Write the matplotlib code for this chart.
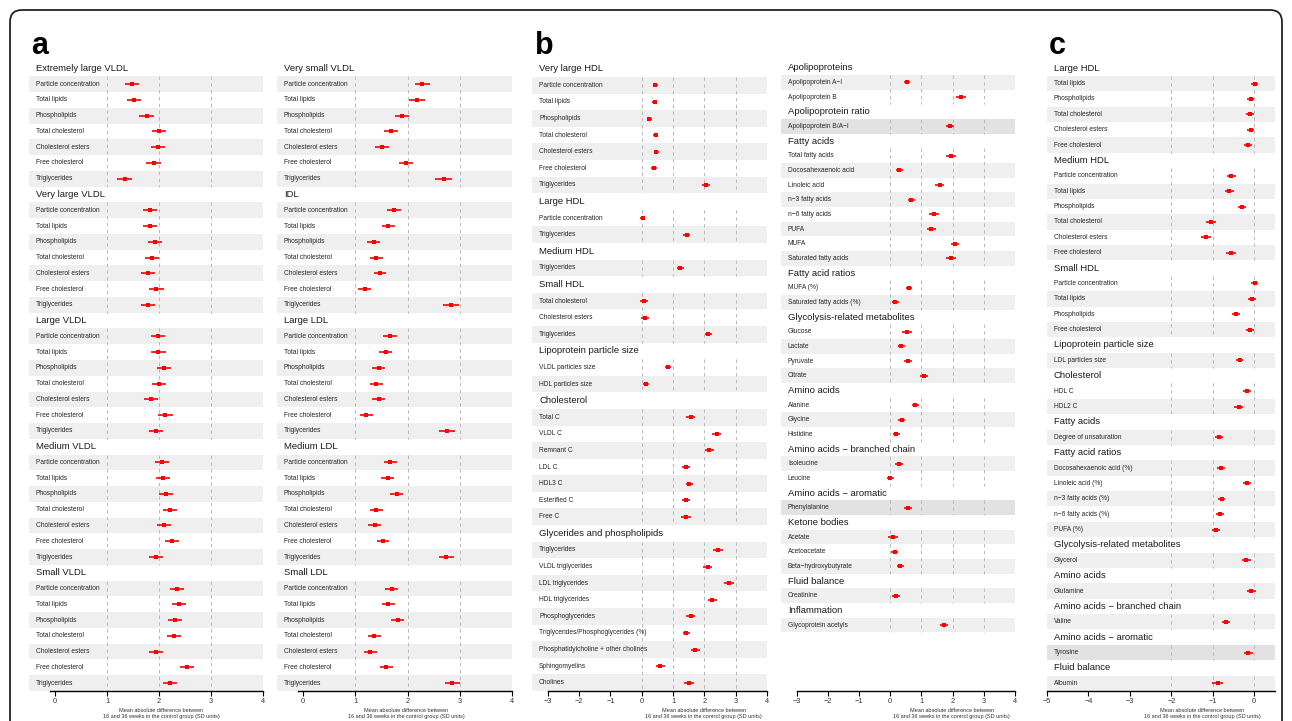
import matplotlib
matplotlib.use('Agg')
import matplotlib.pyplot as plt
import matplotlib.transforms as mtransforms
from matplotlib.patches import FancyBboxPatch

plt.rcParams['font.family'] = ['Liberation Sans', 'DejaVu Sans']

XLAB = "Mean absolute difference between\n16 and 36 weeks in the control group (SD units)"

lipid_rows = ["Particle concentration", "Total lipids", "Phospholipids", "Total cholesterol",
              "Cholesterol esters", "Free cholesterol", "Triglycerides"]

# ---- panel a, left column
a1_groups = ["Extremely large VLDL", "Very large VLDL", "Large VLDL", "Medium VLDL", "Small VLDL"]
a1_rows = [lipid_rows] * 5
a1_est = [[1.48, 1.52, 1.76, 2.00, 1.98, 1.90, 1.34],
          [1.83, 1.83, 1.92, 1.87, 1.79, 1.95, 1.78],
          [1.98, 1.99, 2.10, 2.00, 1.84, 2.12, 1.95],
          [2.05, 2.08, 2.14, 2.22, 2.10, 2.25, 1.95],
          [2.35, 2.38, 2.31, 2.28, 1.95, 2.54, 2.21]]
a1_ci = [[0.14, 0.14, 0.14, 0.14, 0.14, 0.145, 0.15],
         [0.14, 0.135, 0.14, 0.135, 0.135, 0.14, 0.135],
         [0.14, 0.135, 0.14, 0.135, 0.135, 0.14, 0.135],
         [0.135, 0.135, 0.135, 0.135, 0.135, 0.135, 0.135],
         [0.135, 0.135, 0.135, 0.135, 0.135, 0.14, 0.135]]
a1_shade = ["gwgwgwg"] * 5

# ---- panel a, right column
a2_groups = ["Very small VLDL", "IDL", "Large LDL", "Medium LDL", "Small LDL"]
a2_rows = [lipid_rows] * 5
a2_est = [[2.28, 2.18, 1.89, 1.69, 1.51, 1.97, 2.69],
          [1.74, 1.63, 1.35, 1.40, 1.47, 1.18, 2.83],
          [1.66, 1.58, 1.45, 1.40, 1.45, 1.21, 2.75],
          [1.67, 1.62, 1.79, 1.40, 1.37, 1.53, 2.74],
          [1.70, 1.63, 1.81, 1.36, 1.29, 1.59, 2.86]]
a2_ci = [[0.145, 0.145, 0.135, 0.135, 0.135, 0.14, 0.155],
         [0.13, 0.125, 0.125, 0.122, 0.122, 0.12, 0.16],
         [0.13, 0.128, 0.122, 0.125, 0.122, 0.125, 0.15],
         [0.128, 0.128, 0.125, 0.125, 0.125, 0.122, 0.147],
         [0.125, 0.125, 0.122, 0.122, 0.122, 0.125, 0.147]]
a2_shade = ["gwgwgwg"] * 5

# ---- panel b, left column
b1_groups = ["Very large HDL", "Large HDL", "Medium HDL", "Small HDL",
             "Lipoprotein particle size", "Cholesterol", "Glycerides and phospholipids"]
b1_rows = [lipid_rows,
           ["Particle concentration", "Triglycerides"],
           ["Triglycerides"],
           ["Total cholesterol", "Cholesterol esters", "Triglycerides"],
           ["VLDL particles size", "HDL particles size"],
           ["Total C", "VLDL C", "Remnant C", "LDL C", "HDL3 C", "Esterified C", "Free C"],
           ["Triglycerides", "VLDL triglycerides", "LDL triglycerides", "HDL triglycerides",
            "Phosphoglycerides", "Triglycerides/Phosphoglycerides (%)",
            "Phosphatidylcholine + other cholines", "Sphingomyelins", "Cholines"]]
b1_est = [[0.43, 0.41, 0.24, 0.45, 0.47, 0.39, 2.05],
          [0.03, 1.44],
          [1.23],
          [0.07, 0.11, 2.13],
          [0.85, 0.14],
          [1.56, 2.40, 2.16, 1.42, 1.52, 1.41, 1.42],
          [2.43, 2.11, 2.79, 2.26, 1.56, 1.42, 1.71, 0.59, 1.52]]
b1_ci = [[0.08, 0.075, 0.08, 0.08, 0.085, 0.085, 0.13],
         [0.085, 0.117],
         [0.117],
         [0.12, 0.12, 0.117],
         [0.095, 0.085],
         [0.13, 0.147, 0.15, 0.13, 0.115, 0.126, 0.158],
         [0.153, 0.147, 0.158, 0.142, 0.147, 0.116, 0.142, 0.147, 0.163]]
b1_shade = ["gwgwgwg", "wg", "g", "gwg", "wg", "gwgwgwg", "gwgwgwgwg"]

# ---- panel b, right column
b2_groups = ["Apolipoproteins", "Apolipoprotein ratio", "Fatty acids", "Fatty acid ratios",
             "Glycolysis-related metabolites", "Amino acids", "Amino acids \u2212 branched chain",
             "Amino acids \u2212 aromatic", "Ketone bodies", "Fluid balance", "Inflammation"]
b2_rows = [["Apolipoprotein A\u2212I", "Apolipoprotein B"],
           ["Apolipoprotein B/A\u2212I"],
           ["Total fatty acids", "Docosahexaenoic acid", "Linoleic acid", "n\u22123 fatty acids",
            "n\u22126 fatty acids", "PUFA", "MUFA", "Saturated fatty acids"],
           ["MUFA (%)", "Saturated fatty acids (%)"],
           ["Glucose", "Lactate", "Pyruvate", "Citrate"],
           ["Alanine", "Glycine", "Histidine"],
           ["Isoleucine", "Leucine"],
           ["Phenylalanine"],
           ["Acetate", "Acetoacetate", "Beta\u2212hydroxybutyrate"],
           ["Creatinine"],
           ["Glycoprotein acetyls"]]
b2_est = [[0.54, 2.27], [1.91],
          [1.96, 0.29, 1.59, 0.68, 1.40, 1.32, 2.07, 1.95],
          [0.61, 0.16], [0.53, 0.36, 0.57, 1.08], [0.81, 0.37, 0.19],
          [0.28, 0.00], [0.58], [0.10, 0.14, 0.33], [0.18], [1.72]]
b2_ci = [[0.107, 0.15], [0.133],
         [0.16, 0.117, 0.144, 0.117, 0.16, 0.15, 0.128, 0.15],
         [0.096, 0.112], [0.155, 0.107, 0.133, 0.128], [0.123, 0.107, 0.112],
         [0.128, 0.117], [0.128], [0.155, 0.117, 0.112], [0.133], [0.123]]
b2_shade = ["gw", "d", "wgwgwgwg", "wg", "wgwg", "wgw", "gw", "d", "gwg", "g", "g"]

# ---- panel c
c_groups = ["Large HDL", "Medium HDL", "Small HDL", "Lipoprotein particle size", "Cholesterol",
            "Fatty acids", "Fatty acid ratios", "Glycolysis-related metabolites", "Amino acids",
            "Amino acids \u2212 branched chain", "Amino acids \u2212 aromatic", "Fluid balance"]
c_rows = [["Total lipids", "Phospholipids", "Total cholesterol", "Cholesterol esters", "Free cholesterol"],
          ["Particle concentration", "Total lipids", "Phospholipids", "Total cholesterol",
           "Cholesterol esters", "Free cholesterol"],
          ["Particle concentration", "Total lipids", "Phospholipids", "Free cholesterol"],
          ["LDL particles size"],
          ["HDL C", "HDL2 C"],
          ["Degree of unsaturation"],
          ["Docosahexaenoic acid (%)", "Linoleic acid (%)", "n\u22123 fatty acids (%)",
           "n\u22126 fatty acids (%)", "PUFA (%)"],
          ["Glycerol"], ["Glutamine"], ["Valine"], ["Tyrosine"], ["Albumin"]]
c_est = [[0.01, -0.09, -0.10, -0.09, -0.15],
         [-0.55, -0.60, -0.30, -1.05, -1.17, -0.56],
         [0.01, -0.06, -0.44, -0.10],
         [-0.35], [-0.18, -0.38], [-0.85],
         [-0.80, -0.18, -0.79, -0.83, -0.93],
         [-0.19], [-0.07], [-0.68], [-0.14], [-0.88]]
c_ci = [[0.09, 0.09, 0.09, 0.08, 0.09],
        [0.11, 0.11, 0.10, 0.12, 0.12, 0.11],
        [0.09, 0.10, 0.10, 0.10],
        [0.09], [0.10, 0.10], [0.10],
        [0.09, 0.09, 0.09, 0.09, 0.10],
        [0.11], [0.10], [0.105], [0.10], [0.13]]
c_shade = ["gwgwg", "wgwgwg", "wgwg", "g", "wg", "g", "gwgwg", "g", "g", "g", "d", "g"]

SHADES = {'g': '#efefef', 'd': '#e2e2e2', 'w': None}

W, H = 1292, 721
fig = plt.figure(figsize=(W / 100, H / 100), dpi=100)


def draw_column(left_px, right_px, groups, rows, est, ci, shade,
                xlim, bounds, ticks, grid, xlab_x, nslots=None):
    top_px, bot_px = 60.5, 691
    ax = fig.add_axes([left_px / W, 1 - bot_px / H, (right_px - left_px) / W, (bot_px - top_px) / H])
    total = sum(len(r) + 1 for r in rows)
    if nslots is None:
        nslots = total
    ax.set_xlim(*xlim)
    ax.set_ylim(nslots - 0.5, -0.5)

    lab_tr = mtransforms.offset_copy(ax.get_yaxis_transform(), fig=fig, x=7, y=0, units='dots')
    s = 0
    for g, labels, vals, half, sh in zip(groups, rows, est, ci, shade):
        ax.text(0, s, g, transform=lab_tr, ha='left', va='center', fontsize=6.8, color='#1a1a1a')
        ys = [s + 1 + i for i in range(len(labels))]
        for y, lab, code in zip(ys, labels, sh):
            if SHADES[code]:
                ax.axhspan(y - 0.5, y + 0.5, color=SHADES[code], lw=0, zorder=0)
            ax.text(0, y, lab, transform=lab_tr, ha='left', va='center', fontsize=4.8, color='#262626')
        ax.vlines(grid, ys[0] - 0.5, ys[-1] + 0.5, colors='#b8b8b8', lw=0.7,
                  linestyles=(0, (3.5, 3.5)), zorder=1)
        lo = [v - h for v, h in zip(vals, half)]
        hi = [v + h for v, h in zip(vals, half)]
        ax.hlines(ys, lo, hi, colors='red', lw=1.2, zorder=3)
        ax.plot(vals, ys, 's', color='red', ms=2.3, mew=0, zorder=4)
        s += len(labels) + 1

    for side in ['top', 'left', 'right']:
        ax.spines[side].set_visible(False)
    ax.spines['bottom'].set_bounds(*bounds)
    ax.spines['bottom'].set_linewidth(1.0)
    ax.set_yticks([])
    ax.set_xticks(ticks)
    ax.tick_params(axis='x', length=3.5, width=0.8, labelsize=5.3, pad=1.5, labelcolor='#333333')
    ax.patch.set_visible(False)
    ax.annotate(XLAB, xy=(xlab_x, 0), xycoords=('data', 'axes fraction'),
                xytext=(0, -17), textcoords='offset pixels', ha='center', va='top',
                fontsize=4, color='#333333', linespacing=1.25)
    return ax


draw_column(29, 263, a1_groups, a1_rows, a1_est, a1_ci, a1_shade,
            (-0.5, 4), (-0.1, 4), [0, 1, 2, 3, 4], [1, 2, 3], 2.05)
draw_column(277, 512, a2_groups, a2_rows, a2_est, a2_ci, a2_shade,
            (-0.5, 4), (-0.1, 4), [0, 1, 2, 3, 4], [1, 2, 3], 1.97)
draw_column(532, 767, b1_groups, b1_rows, b1_est, b1_ci, b1_shade,
            (-3.5, 4), (-3, 4), list(range(-3, 5)), [0, 1, 2, 3], 1.98)
draw_column(781, 1015, b2_groups, b2_rows, b2_est, b2_ci, b2_shade,
            (-3.5, 4), (-3, 4), list(range(-3, 5)), [0, 1, 2, 3], 1.97, nslots=43)
draw_column(1047, 1275, c_groups, c_rows, c_est, c_ci, c_shade,
            (-5, 0.5), (-5, 0.5), list(range(-5, 1)), [-2, -1, 0], -1.25)

# panel letters
for letter, xpx in [('a', 31), ('b', 535), ('c', 1049)]:
    fig.text(xpx / W, 1 - 54 / H, letter, fontsize=22, fontweight='bold', va='baseline', ha='left')

# rounded frame around the whole figure
frame = FancyBboxPatch((10, -30), 1272, H - 10 + 30, boxstyle="round,pad=0,rounding_size=12",
                       transform=mtransforms.IdentityTransform(), fill=False, lw=1.3, ec='#222222')
fig.add_artist(frame)

fig.savefig('out.png', dpi=100)
